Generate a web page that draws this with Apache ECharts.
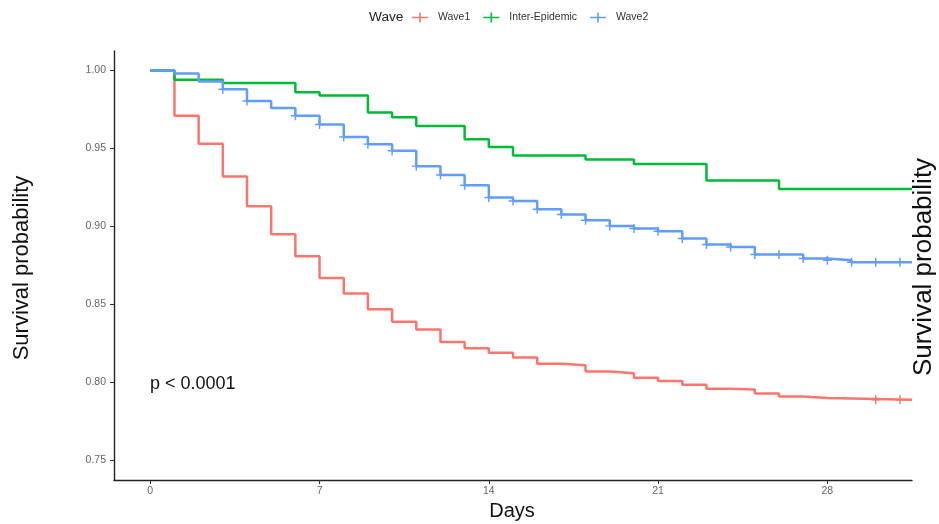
<!DOCTYPE html>
<html lang="en">
<head>
    <meta charset="UTF-8">
    <title>Survival by wave</title>
    <script src="https://cdn.jsdelivr.net/npm/echarts/dist/echarts.min.js"></script>
    <style>
        html, body { margin: 0; padding: 0; background: #fff; }
    </style>
</head>
<body>
<div id="main" style="width: 939px;height:524px;"></div>
<script type="text/javascript">
    // Kaplan-Meier steps
    var wave1Days = [0, 1, 2, 3, 4, 5, 6, 7, 8, 9, 10, 11, 12, 13, 14, 15, 16, 17, 18, 19, 20, 21, 22, 23, 24, 25, 26, 27, 28, 31.5];
    var wave1Surv = [1.000, 0.971, 0.953, 0.932, 0.913, 0.895, 0.881, 0.867, 0.857, 0.847, 0.839, 0.834, 0.826, 0.822, 0.819, 0.816, 0.812, 0.811, 0.807, 0.806, 0.803, 0.801, 0.7985, 0.796, 0.7955, 0.793, 0.791, 0.790, 0.789, 0.789];
    var wave1Censor = [30, 31];

    var interDays = [0, 1, 3, 6, 7, 9, 10, 11, 13, 14, 15, 18, 20, 23, 26, 31.5];
    var interSurv = [1.000, 0.994, 0.992, 0.986, 0.984, 0.973, 0.970, 0.9645, 0.956, 0.951, 0.9455, 0.943, 0.940, 0.9295, 0.924, 0.924];
    var interCensor = [];

    var wave2Days = [0, 1, 2, 3, 4, 5, 6, 7, 8, 9, 10, 11, 12, 13, 14, 15, 16, 17, 18, 19, 20, 21, 22, 23, 24, 25, 27, 28, 29, 31.5];
    var wave2Surv = [1.000, 0.998, 0.993, 0.988, 0.9805, 0.976, 0.971, 0.9654, 0.9574, 0.9528, 0.9485, 0.9387, 0.933, 0.9265, 0.9186, 0.9164, 0.9111, 0.9077, 0.904, 0.9004, 0.8987, 0.897, 0.8923, 0.8885, 0.8869, 0.882, 0.8795, 0.8784, 0.8771, 0.8771];
    var wave2Censor = [3, 4, 6, 7, 8, 9, 10, 11, 12, 13, 14, 15, 16, 17, 18, 19, 20, 21, 22, 23, 24, 25, 26, 27, 28, 29, 30, 31];

    var xTicks = [0, 7, 14, 21, 28];
    var yTicks = [0.75, 0.80, 0.85, 0.90, 0.95, 1.00];

    var groups = [
        { name: 'Wave1', days: wave1Days, surv: wave1Surv, censor: wave1Censor, color: '#F8766D' },
        { name: 'Inter-Epidemic', days: interDays, surv: interSurv, censor: interCensor, color: '#00BA38' },
        { name: 'Wave2', days: wave2Days, surv: wave2Surv, censor: wave2Censor, color: '#619CFF' }
    ];

    var font = '"Liberation Sans", Arial, sans-serif';
    var crossSymbol = 'path://M-0.16,-1 L0.16,-1 L0.16,-0.16 L1,-0.16 L1,0.16 L0.16,0.16 L0.16,1 L-0.16,1 L-0.16,0.16 L-1,0.16 L-1,-0.16 L-0.16,-0.16 Z';
    var legendIcon = 'path://M0,4.2 L16,4.2 L16,5.8 L0,5.8 Z M7.2,0 L8.8,0 L8.8,10 L7.2,10 Z';

    // survival value of a step curve at time t
    function survAt(days, surv, t) {
        var v = surv[0];
        for (var i = 0; i < days.length; i++) {
            if (days[i] <= t) v = surv[i];
        }
        return v;
    }

    var series = [];
    groups.forEach(function (g) {
        series.push({
            name: g.name,
            type: 'line',
            step: 'end',
            symbol: 'none',
            data: g.days.map(function (d, i) { return [d, g.surv[i]]; }),
            itemStyle: { color: g.color },
            lineStyle: { color: g.color, width: 2.5 },
            animation: false
        });
    });
    groups.forEach(function (g) {
        series.push({
            name: g.name + ' censored',
            type: 'scatter',
            symbol: crossSymbol,
            symbolSize: 9,
            data: g.censor.map(function (d) { return [d, survAt(g.days, g.surv, d)]; }),
            itemStyle: { color: g.color, opacity: 1 },
            animation: false
        });
    });

    var chart = echarts.init(document.getElementById('main'));
    chart.setOption({
        backgroundColor: '#fff',
        grid: { left: 114, right: 27, top: 51, bottom: 44, containLabel: false },
        legend: {
            data: groups.map(function (g) {
                return { name: g.name, icon: legendIcon, itemStyle: { color: g.color } };
            }),
            left: 412,
            top: 12,
            padding: 0,
            itemWidth: 16,
            itemHeight: 10,
            itemGap: 13,
            selectedMode: false,
            textStyle: { fontFamily: font, fontSize: 10.5, color: '#333', padding: [0, 0, 0, 5] }
        },
        xAxis: {
            type: 'value',
            min: -1.5,
            max: 31.5,
            splitLine: { show: false },
            axisLine: { onZero: false, lineStyle: { color: '#222', width: 1.4 } },
            axisTick: { customValues: xTicks, length: 4, lineStyle: { color: '#333' } },
            axisLabel: { customValues: xTicks, fontFamily: font, fontSize: 10.5, color: '#666', margin: 6 }
        },
        yAxis: {
            type: 'value',
            min: 0.7375,
            max: 1.0125,
            splitLine: { show: false },
            axisLine: { show: true, onZero: false, lineStyle: { color: '#222', width: 1.4 } },
            axisTick: { show: true, customValues: yTicks, length: 4, lineStyle: { color: '#333' } },
            axisLabel: {
                customValues: yTicks, fontFamily: font, fontSize: 10.5, color: '#666', margin: 8,
                formatter: function (v) { return v.toFixed(2); }
            }
        },
        graphic: [
            {
                type: 'text', left: 369, top: 10,
                style: { text: 'Wave', font: '13.7px ' + font, fill: '#222' }
            },
            {
                type: 'text', x: 22, y: 268, rotation: Math.PI / 2,
                style: { text: 'Survival probability', font: '22px ' + font, fill: '#111', align: 'center', verticalAlign: 'middle' }
            },
            {
                type: 'text', x: 924, y: 267, rotation: Math.PI / 2,
                style: { text: 'Survival probability', font: '26px ' + font, fill: '#111', align: 'center', verticalAlign: 'middle' }
            },
            {
                type: 'text', x: 512, y: 511, z: 10,
                style: { text: 'Days', font: '20px ' + font, fill: '#111', align: 'center', verticalAlign: 'middle' }
            },
            {
                type: 'text', x: 150, y: 384,
                style: { text: 'p < 0.0001', font: '18px ' + font, fill: '#111', align: 'left', verticalAlign: 'middle' }
            }
        ],
        series: series
    });
</script>
</body>
</html>
